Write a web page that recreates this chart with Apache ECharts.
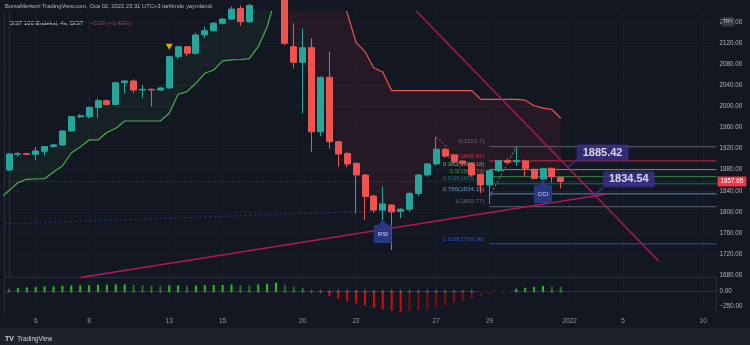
<!DOCTYPE html>
<html><head><meta charset="utf-8">
<script src="https://cdn.jsdelivr.net/npm/echarts@6.0.0/dist/echarts.min.js"></script>
<style>html,body{margin:0;padding:0;background:#131722;}#c{width:750px;height:345px;}</style>
</head><body><div id="c"></div>
<script>
// ---------- DATA ----------
const tradingDays = ['3','6','7','8','9','10','13','14','15','16','17','20','21','22','23','24','27','28','29','30','31','J3','J4','J5','J6','J7','J10'];
const tickDays = ['6','8','13','15','20','22','27','29','J3','J5','J10'];
const tickText = ['6','8','13','15','20','22','27','29','2022','5','10'];
const priceTicks = [1680,1720,1760,1800,1840,1880,1920,1960,2000,2040,2080,2120,2160];

const open = [1879.5,1909.5,1910.5,1909.3,1915,1924,1927,1953.5,1980.5,1981,1998,2011,2004,2045,2048.5,2031.4,2032.7,2031.4,2035.2,2094.6,2113.6,2101,2135.8,2144,2158,2166,2186,2161,2192,2205,2222,2215,2113.6,2084,2111.7,1952,2055.5,1933.2,1911,1892,1870,1830,1803.5,1813,1801,1805,1835,1870,1891,1918.8,1908,1896.6,1892.2,1871.3,1851,1878.2,1897.2,1895.2,1896.6,1880.8,1862.4,1882.7,1865.5];
const close = [1909.9,1910.5,1909.3,1915.6,1924,1927,1953.5,1980.7,1982.5,1998,2011,2004,2045,2048.5,2031.4,2032.7,2031.4,2035.2,2094.6,2113.6,2101,2135.8,2144,2158,2166,2185,2161.2,2192,2205,2222,2215,2120,2084,2111.7,1952,2055.5,1933.2,1910,1891,1870,1829,1803.5,1815,1800,1805,1835,1870,1891,1918.8,1906,1895,1892.2,1870,1851,1878.2,1897.2,1894.1,1897.2,1882.7,1863.7,1882,1866.8,1857.65];
const high = [1911.8,1914,1912,1923.7,1925,1929,1955,1982,1985.5,2000,2015.6,2013,2047,2050,2051.7,2040.9,2034,2036.5,2096,2115.5,2115,2140,2152,2160,2168,2190,2192,2195,2215,2230,2232,2220,2158,2148.6,2129.6,2057,2104,1935,1913,1894,1872,1832,1848,1815,1807,1838,1872,1893,1941.6,1921,1910,1897,1894,1873,1880,1899,1901.7,1923.7,1899,1882,1884,1884,1866.5];
const low = [1877.6,1905,1908,1898.5,1907,1922,1925,1952,1978,1977.6,1977.6,2002,2002,2025,2026,2015.6,2000,2030,2034,2089.7,2096,2099,2130,2142,2156,2164,2153,2159,2188,2200,2212,2116,2072.6,1987,1914,1944,1920.7,1885.8,1885,1797,1784.6,1798,1784.6,1727.6,1788,1800,1830,1866,1888,1904,1893,1889,1866,1835.3,1815,1876,1892,1887.1,1866.8,1861,1860,1855.4,1844.7];

// Supertrend: up-trend line for bars 0..30, down-trend line for bars 31..62
const stUp = [1840.4,1855.4,1861.8,1862.4,1863,1875.7,1887.1,1911.8,1923.2,1936.5,1936.5,1950.7,1958.7,1972.5,1972.5,1972.5,1972.5,1972.5,1987.2,2023.2,2028.2,2044.1,2063.1,2069.4,2086.5,2088.4,2089.3,2090.8,2113.6,2151,2210];
const stUpPrev = 1826;
const stDown = [2290,2290,2270,2260,2240,2235,2224,2177.6,2121.2,2104.1,2073.2,2065.6,2030.1,2030.1,2030.1,2030.1,2030.1,2030.1,2030.1,2030.1,2030.1,2030.1,2013.7,2013.7,2013.7,2013.7,2013.7,2012,2001.5,1997,1994.4,1977.7];
const stDownStart = 31;

// Squeeze momentum histogram
const sqz = [43,54,65,70,81,82,92,97,98,99,108,109,113,114,108,103,97,96,98,99,92,97,103,104,105,113,103,102,113,124,140,108,81,54,2,-22,-81,-124,-162,-200,-232,-270,-297,-319,-335,-324,-319,-297,-265,-232,-189,-157,-124,-76,-49,-5,3,43,59,70,86,81,76];
const sqzOn = [53,54,55,56];

// Fibonacci retracement
const fibHigh = 1923.7, fibLow = 1809.77;
const fibLevels = [0,0.236,0.382,0.5,0.618,0.786,1,1.618];
const fibColors = ['#787b86','#f23645','#81c784','#4caf50','#089981','#64b5f6','#787b86','#2962ff'];
const fibStartX = 54, fibEndX = 79.5;

// drawings [barIndex, price]
const trendUp = [[8,1675.5],[67,1833.4]];
const trendDown = [[45,2194.4],[73,1706.7]];
const fibAnchor = [[54,1828.8],[57,1923.7]];
const redDash = [[48,1942],[49.2,1923]];
const blueDots = [[-0.5,1777],[45,1804]];
const callouts = [
  {text:'1885.42', box:[66.69,1912.7], corner:[63.82,1898.5], anchor:[62.7,1883.3]},
  {text:'1834.54', box:[69.64,1862], corner:[66.78,1846.6], anchor:[65.84,1832]}
];
const tags = [{text:'RSI', at:[42,1784.6]},{text:'CCI', at:[60,1860]}];
const signalBar = 18, signalPrice = 2113.6;
const lastPrice = 1857.65;

// ---------- BUILD ----------
const NC = 80;
const categories = [];
tradingDays.forEach(d => { for (let k = 0; k < 3; k++) categories.push(d + '-' + k); });
categories.length = NC;
const tickIdx = tickDays.map(d => categories.indexOf(d + '-0'));

const candleData = open.map((o, i) => [o, close[i], low[i], high[i]]);
const mid = open.map((o, i) => (o + close[i]) / 2);

const upBase = new Array(NC).fill(null), upFill = new Array(NC).fill(null);
stUp.forEach((v, i) => { upBase[i] = v; upFill[i] = mid[i] - v; });
const dnBase = new Array(NC).fill(null), dnFill = new Array(NC).fill(null);
stDown.forEach((v, k) => { const i = stDownStart + k; dnBase[i] = v; dnFill[i] = mid[i] - v; });

const upLine = [[-1, stUpPrev]].concat(stUp.map((v, i) => [i, v]));
const dnLine = stDown.map((v, k) => [stDownStart + k, v]);

const sqzColors = sqz.map((v, i) => {
  const p = i > 0 ? sqz[i - 1] : v;
  if (v >= 0) return v > p ? '#22c322' : '#1a6e1a';
  return v < p ? '#d40c0c' : '#7c1010';
});

const gridColor = '#1a1e2a';
const axisColor = '#2a2e39';
const font = 'Liberation Sans, Arial, sans-serif';

const series = [];
// grid lines main pane
series.push({
  type: 'line', xAxisIndex: 0, yAxisIndex: 0, data: [], silent: true, z: 0,
  markLine: { silent: true, symbol: 'none', z: 0, animation: false, label: { show: false },
    lineStyle: { color: gridColor, width: 1, type: 'solid' },
    data: priceTicks.map(v => ({ yAxis: v })).concat(tickIdx.map(i => ({ xAxis: categories[i] }))) }
});
// grid lines lower pane
series.push({
  type: 'line', xAxisIndex: 1, yAxisIndex: 1, data: [], silent: true, z: 0,
  markLine: { silent: true, symbol: 'none', z: 0, animation: false, label: { show: false },
    lineStyle: { color: gridColor, width: 1, type: 'solid' },
    data: [{ yAxis: -250 }].concat(tickIdx.map(i => ({ xAxis: categories[i] }))) }
});
// supertrend fills
series.push({ type: 'line', xAxisIndex: 0, yAxisIndex: 0, stack: 'up', stackStrategy: 'all', data: upBase, symbol: 'none', lineStyle: { opacity: 0 }, z: 1, silent: true });
series.push({ type: 'line', xAxisIndex: 0, yAxisIndex: 0, stack: 'up', stackStrategy: 'all', data: upFill, symbol: 'none', lineStyle: { opacity: 0 }, areaStyle: { color: 'rgba(76,175,80,0.10)' }, z: 1, silent: true });
series.push({ type: 'line', xAxisIndex: 0, yAxisIndex: 0, stack: 'dn', stackStrategy: 'all', data: dnBase, symbol: 'none', lineStyle: { opacity: 0 }, z: 1, silent: true });
series.push({ type: 'line', xAxisIndex: 0, yAxisIndex: 0, stack: 'dn', stackStrategy: 'all', data: dnFill, symbol: 'none', lineStyle: { opacity: 0 }, areaStyle: { color: 'rgba(242,54,69,0.11)' }, z: 1, silent: true });
// supertrend lines
series.push({ type: 'line', xAxisIndex: 2, yAxisIndex: 0, data: upLine, symbol: 'none', lineStyle: { color: '#4caf50', width: 1.2 }, z: 2 });
series.push({ type: 'line', xAxisIndex: 2, yAxisIndex: 0, data: dnLine, symbol: 'none', lineStyle: { color: '#ef5350', width: 1.2 }, z: 2 });
// blue dotted
series.push({ type: 'line', xAxisIndex: 2, yAxisIndex: 0, data: blueDots, symbol: 'none', lineStyle: { color: '#2a3a8c', width: 1, type: [2, 3] }, z: 2 });
// fib lines
fibLevels.forEach((lv, k) => {
  const p = +(fibHigh - (fibHigh - fibLow) * lv).toFixed(2);
  series.push({ type: 'line', xAxisIndex: 2, yAxisIndex: 0, data: [[fibStartX, p], [fibEndX, p]], symbol: 'none',
    lineStyle: { color: fibColors[k], width: 1, opacity: 0.75 }, z: 2, silent: true });
  series.push({ type: 'scatter', xAxisIndex: 2, yAxisIndex: 0, data: [[fibStartX, p]], symbolSize: 0, z: 3, silent: true,
    label: { show: true, position: 'left', distance: 5, offset: [0, -5], color: fibColors[k], fontSize: 6.2, fontFamily: font,
      formatter: lv + '(' + (Math.round(p * 100) / 100) + ')' } });
});
// dashed anchors
series.push({ type: 'line', xAxisIndex: 2, yAxisIndex: 0, data: fibAnchor, symbol: 'none', lineStyle: { color: '#4caf50', width: 1, type: [2, 2] }, z: 3 });
series.push({ type: 'line', xAxisIndex: 2, yAxisIndex: 0, data: redDash, symbol: 'none', lineStyle: { color: '#ef5350', width: 1, type: [2, 2] }, z: 3 });
// trend lines
series.push({ type: 'line', xAxisIndex: 2, yAxisIndex: 0, data: trendUp, symbol: 'none', lineStyle: { color: '#b0185c', width: 1.4 }, z: 3 });
series.push({ type: 'line', xAxisIndex: 2, yAxisIndex: 0, data: trendDown, symbol: 'none', lineStyle: { color: '#b0185c', width: 1.4 }, z: 3 });
// candles
series.push({
  type: 'candlestick', xAxisIndex: 0, yAxisIndex: 0, data: candleData, barWidth: 6.5, z: 4, clip: true,
  itemStyle: { color: '#26a69a', color0: '#ef5350', borderColor: '#26a69a', borderColor0: '#ef5350', borderWidth: 1 },
  markLine: { silent: true, symbol: 'none', animation: false,
    lineStyle: { color: 'rgba(239,83,80,0.45)', width: 1, type: [1, 2] },
    data: [{ yAxis: lastPrice, label: { show: true, position: 'end', distance: 1, formatter: lastPrice.toFixed(2),
      backgroundColor: '#f23645', color: '#fff', fontSize: 6.3, fontFamily: font, padding: [2, 3, 2, 3] } }] }
});
// signal triangle
series.push({ type: 'scatter', xAxisIndex: 0, yAxisIndex: 0, data: [[categories[signalBar], signalPrice]], symbol: 'triangle', symbolRotate: 180, symbolSize: [7, 6], itemStyle: { color: '#ffd600' }, z: 5 });
// RSI / CCI tags
series.push({ type: 'scatter', xAxisIndex: 2, yAxisIndex: 0, z: 5,
  data: tags.map(t => ({ value: t.at, name: t.text })),
  symbol: 'path://M9,0 L14,5 L18,5 L18,23 L0,23 L0,5 L4,5 Z', symbolSize: [18, 23], symbolOffset: [0, 11.5], symbolKeepAspect: false,
  itemStyle: { color: '#2b3b8c', opacity: 0.92 },
  label: { show: true, position: 'inside', offset: [0, 3], formatter: p => p.name, color: '#e0e3eb', fontSize: 6, fontFamily: font } });
// callouts
callouts.forEach(c => {
  series.push({ type: 'line', xAxisIndex: 2, yAxisIndex: 0, data: [c.anchor, c.corner], symbol: 'none', lineStyle: { color: '#3b2f8c', width: 1.5 }, z: 5 });
  series.push({ type: 'scatter', xAxisIndex: 2, yAxisIndex: 0, data: [c.box], symbolSize: 0, z: 6,
    label: { show: true, position: 'inside', formatter: c.text, color: '#ffffff', fontSize: 11, fontWeight: 'bold', fontFamily: font,
      backgroundColor: '#3b2f8c', padding: [3, 6, 2, 6], borderRadius: 2 } });
});
// squeeze histogram
series.push({ type: 'bar', xAxisIndex: 1, yAxisIndex: 1, barWidth: 2, z: 3,
  data: sqz.map((v, i) => ({ value: v, itemStyle: { color: sqzColors[i] } })) });
series.push({ type: 'scatter', xAxisIndex: 1, yAxisIndex: 1, z: 4,
  data: sqz.map((v, i) => ({ value: 0, itemStyle: { color: sqzOn.includes(i) ? '#0a0a0a' : '#6f727c' } })),
  symbol: 'path://M2,0 L3,0 L3,2 L5,2 L5,3 L3,3 L3,5 L2,5 L2,3 L0,3 L0,2 L2,2 Z', symbolSize: 4 });

const option = {
  backgroundColor: '#131722',
  animation: false,
  textStyle: { fontFamily: font },
  grid: [
    { left: 4.55, width: 712, top: 11.7, height: 266 },
    { left: 4.55, width: 712, top: 277.7, height: 36.3 }
  ],
  xAxis: [
    { type: 'category', gridIndex: 0, data: categories, boundaryGap: true,
      axisLine: { show: true, lineStyle: { color: axisColor } }, axisTick: { show: false }, axisLabel: { show: false }, splitLine: { show: false } },
    { type: 'category', gridIndex: 1, data: categories, boundaryGap: true,
      axisLine: { show: true, lineStyle: { color: axisColor } }, axisTick: { show: false }, splitLine: { show: false },
      axisLabel: { show: true, margin: 4, color: '#9598a1', fontSize: 6.5,
        interval: (i) => tickIdx.includes(i),
        formatter: (v, i) => { const k = tickIdx.indexOf(i); return k >= 0 ? tickText[k] : ''; } } },
    { type: 'value', gridIndex: 0, min: -0.5, max: NC - 0.5, show: false }
  ],
  yAxis: [
    { type: 'value', gridIndex: 0, position: 'right', min: 1675, max: 2180, interval: 5, scale: true,
      axisLine: { show: true, lineStyle: { color: axisColor } }, axisTick: { show: false }, splitLine: { show: false },
      axisLabel: { margin: 3, color: '#b2b5be', fontSize: 6.3,
        formatter: v => (Math.abs(v % 40) < 0.01 && v >= 1680 && v <= 2160) ? v.toFixed(2) : '' } },
    { type: 'value', gridIndex: 1, position: 'right', min: -375, max: 225, interval: 125,
      axisLine: { show: true, lineStyle: { color: axisColor } }, axisTick: { show: false }, splitLine: { show: false },
      axisLabel: { margin: 3, color: '#b2b5be', fontSize: 6.3,
        formatter: v => v === 0 ? '0.00' : (v === -250 ? '\u2212250.00' : '') } }
  ],
  graphic: [
    { type: 'rect', shape: { x: 0, y: 328, width: 750, height: 17 }, style: { fill: '#1e222d' }, silent: true },
    { type: 'line', shape: { x1: 4.55, y1: 11.7, x2: 4.55, y2: 314 }, style: { stroke: axisColor, lineWidth: 1 }, silent: true },
    { type: 'text', left: 5, top: 3, style: { text: 'BorsaMerkezi TradingView.com, Oca 02, 2022 23:31 UTC+3 tarihinde yayınlandı', fill: '#b2b5be', fontSize: 5.8, fontFamily: font } },
    { type: 'text', left: 9, top: 17, style: { text: '{a|BIST 100 Endeksi, 4s, BIST}  {b|\u22128.89 (\u22120.48%)}', rich: { a: { fill: '#d1d4dc', fontSize: 6, fontFamily: font }, b: { fill: '#f23645', fontSize: 6, fontFamily: font } } } },
    { type: 'rect', shape: { x: 721.5, y: 17, width: 13, height: 9.5, r: 1.5 }, style: { fill: '#363a45' }, silent: true, z: 100 },
    { type: 'text', x: 728, y: 21.8, z: 101, style: { text: 'TRY', fill: '#c8cbd3', fontSize: 5, fontFamily: font, align: 'center', verticalAlign: 'middle' } },
    { type: 'text', left: 5, top: 333, style: { text: '{l|TV} {t|TradingView}', rich: { l: { fill: '#d1d4dc', fontSize: 7, fontWeight: 'bold', fontFamily: font }, t: { fill: '#d1d4dc', fontSize: 6.3, fontFamily: font } } } }
  ],
  series: series
};
const chart = echarts.init(document.getElementById('c'), null, { renderer: 'canvas', width: 750, height: 345 });
chart.setOption(option);
</script>
</body></html>
